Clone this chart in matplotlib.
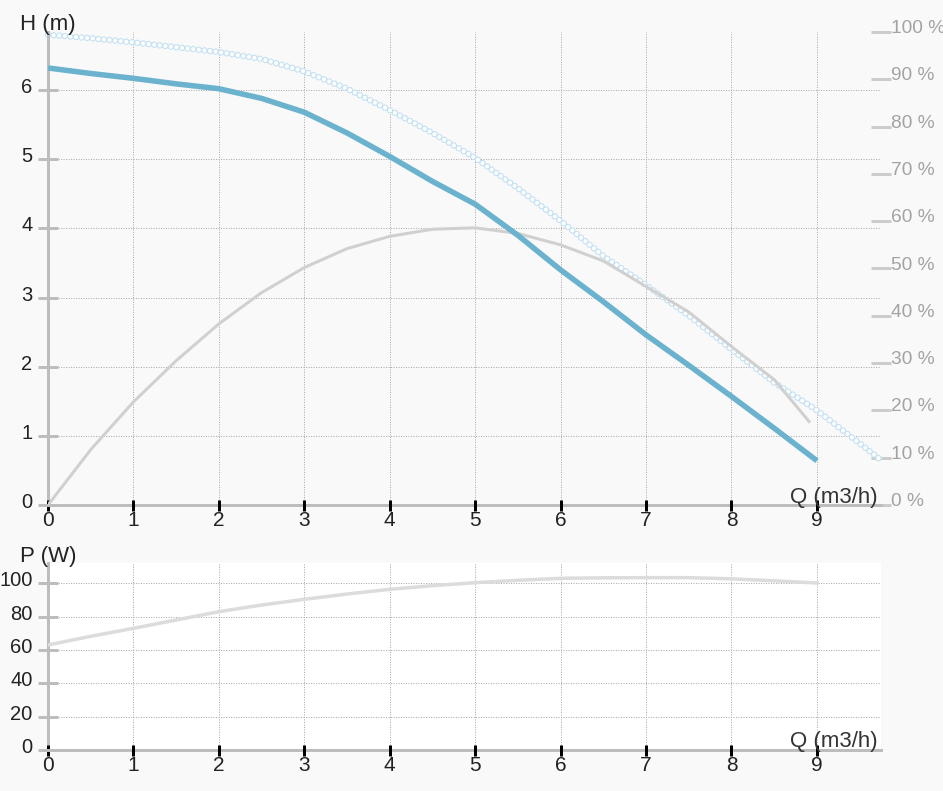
import matplotlib
matplotlib.use('Agg')
import matplotlib.pyplot as plt
from matplotlib.transforms import ScaledTranslation

plt.rcParams['font.family'] = ['Liberation Sans', 'DejaVu Sans']
plt.rcParams['lines.scale_dashes'] = False

# ---------------- data ----------------
q_head = [0, 0.5, 1, 1.5, 2, 2.5, 3, 3.5, 4, 4.5, 5, 5.5, 6, 6.5, 7, 7.5, 8, 8.5, 9]
head = [6.32, 6.24, 6.17, 6.09, 6.02, 5.88, 5.68, 5.38, 5.04, 4.68, 4.35, 3.90,
        3.40, 2.94, 2.46, 2.02, 1.57, 1.11, 0.64]

q_max = [0, 0.5, 1, 1.5, 2, 2.5, 3, 3.5, 4, 4.5, 5, 5.5, 6, 6.5, 7, 7.5, 8, 8.5, 9, 9.75]
head_max = [6.80, 6.75, 6.69, 6.62, 6.55, 6.45, 6.27, 6.02, 5.71, 5.38, 5.02, 4.58,
            4.11, 3.60, 3.18, 2.74, 2.25, 1.77, 1.37, 0.65]

q_eff = [0, 0.5, 1, 1.5, 2, 2.5, 3, 3.5, 4, 4.5, 5, 5.5, 6, 6.5, 7, 7.5, 8, 8.5, 8.92]
eff = [0, 11.7, 21.8, 30.5, 38.3, 44.9, 50.2, 54.2, 56.8, 58.3, 58.6, 57.4, 55.0,
       51.6, 46.2, 40.8, 33.5, 26.5, 17.4]

q_pow = [0, 0.5, 1, 1.5, 2, 2.5, 3, 3.5, 4, 4.5, 5, 5.5, 6, 6.5, 7, 7.5, 8, 8.5, 9]
power = [63, 68.2, 73, 78, 83, 87, 90.4, 93.6, 96.4, 98.6, 100.4, 101.8, 103,
         103.3, 103.4, 103.4, 102.7, 101.5, 100.2]

q_ticks = [0, 1, 2, 3, 4, 5, 6, 7, 8, 9]
h_ticks = [0, 1, 2, 3, 4, 5, 6]
p_ticks = [0, 20, 40, 60, 80, 100]
eff_ticks = [0, 10, 20, 30, 40, 50, 60, 70, 80, 90, 100]
eff_labels = [f"{v} %" for v in eff_ticks]

# ---------------- style ----------------
W, H = 943, 791
PX = 72 / 100  # points per pixel
BG = '#f9f9f9'
AXC = '#bdbdbd'
GRIDC = '#b0b0b0'
BLUE = '#6ab2cd'
CIRC = '#c4e1f2'
EFFC = '#d0d0d0'
POWC = '#dcdcdc'
TXT = '#222222'

fig = plt.figure(figsize=(W / 100, H / 100), dpi=100, facecolor=BG)

x0, x1 = 48, 881
ax1 = fig.add_axes([x0 / W, 1 - 505 / H, (x1 - x0) / W, (505 - 32) / H])
ax2 = fig.add_axes([x0 / W, 1 - 750 / H, (x1 - x0) / W, (750 - 563) / H])
axr = ax1.twinx()
axr.set_zorder(ax1.get_zorder() - 1)
ax1.patch.set_visible(False)
axr.patch.set_facecolor('white')

XMAX = 9.75


def style_axis(ax, yt, ymax):
    ax.set_xlim(0, XMAX)
    ax.set_ylim(0, ymax)
    for s in ['top', 'right']:
        ax.spines[s].set_visible(False)
    for s in ['left', 'bottom']:
        ax.spines[s].set_color(AXC)
        ax.spines[s].set_linewidth(3 * PX)
        ax.spines[s].set_zorder(1.5)
    ax.set_xticks(q_ticks)
    ax.set_yticks(yt)
    ax.tick_params(axis='x', direction='inout', length=11 * PX, width=3 * PX,
                   color='black', labelsize=15, labelcolor=TXT, pad=0.5)
    ax.tick_params(axis='y', direction='inout', length=20 * PX, width=3 * PX,
                   color=AXC, labelsize=14.5, labelcolor=TXT, pad=4)
    for t in ax.get_yticklabels():
        t.set_verticalalignment('baseline')
        t.set_transform(t.get_transform() + ScaledTranslation(0, -3 / 100, fig.dpi_scale_trans))
    for v in q_ticks[1:]:
        ax.axvline(v, color=GRIDC, lw=1 * PX, dashes=(0.8, 1.0), zorder=0.5)
    for v in yt[1:]:
        ax.axhline(v, color=GRIDC, lw=1 * PX, dashes=(0.8, 1.0), zorder=0.5)


style_axis(ax1, h_ticks, 6.84)
style_axis(ax2, p_ticks, 112.2)

# right efficiency axis
axr.set_ylim(0, 100)
axr.set_yticks(eff_ticks)
axr.set_yticklabels(eff_labels)
for s in ['top', 'right', 'left', 'bottom']:
    axr.spines[s].set_visible(False)
axr.tick_params(axis='y', direction='inout', length=20 * PX, width=3 * PX,
                color='#cccccc', labelsize=13.8, labelcolor='#a3a3a3', pad=0)
for t in axr.get_yticklabels():
    t.set_verticalalignment('baseline')
    t.set_transform(t.get_transform() + ScaledTranslation(0, -1 / 100, fig.dpi_scale_trans))

# circles curve (open rings via round-capped dots)
ax1.plot(q_max, head_max, color=CIRC, lw=6.5 * PX, dashes=(0.01, 5.6 * PX),
         dash_capstyle='round', zorder=1, clip_on=False)
ax1.plot(q_max, head_max, color='white', lw=4.2 * PX, dashes=(0.01, 5.6 * PX),
         dash_capstyle='round', zorder=1.1, clip_on=False)

# efficiency curve (on percentage scale)
ax1.plot(q_eff, eff, color=EFFC, lw=3 * PX, transform=axr.transData, zorder=2,
         solid_capstyle='butt')

# head curve
ax1.plot(q_head, head, color=BLUE, lw=5.5 * PX, zorder=3, solid_capstyle='butt')

# power curve
ax2.plot(q_pow, power, color=POWC, lw=3.5 * PX, zorder=2)

# axis titles
fig.text(20 / W, 1 - 30 / H, 'H (m)', fontsize=16, color=TXT, ha='left', va='baseline')
fig.text(20 / W, 1 - 562 / H, 'P (W)', fontsize=16, color=TXT, ha='left', va='baseline')
fig.text(878 / W, 1 - 503 / H, 'Q (m3/h)', fontsize=16, color='#333333', ha='right', va='baseline')
fig.text(878 / W, 1 - 747 / H, 'Q (m3/h)', fontsize=16, color='#333333', ha='right', va='baseline')

fig.savefig('out.png', dpi=100, facecolor=BG)
